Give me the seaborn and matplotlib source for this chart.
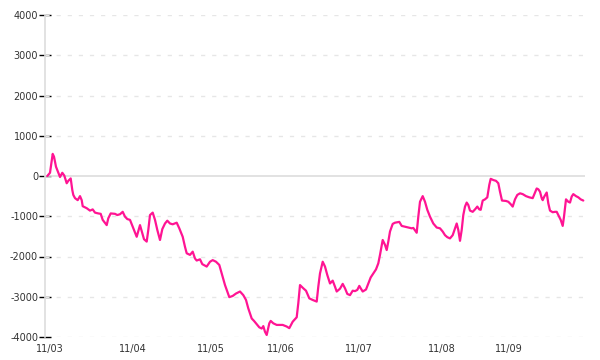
import matplotlib
matplotlib.use("Agg")
import matplotlib.pyplot as plt
import seaborn as sns
import pandas as pd

# elapsed session time (x) and cumulative value (y)
t = [0.3, 3, 5.7, 7, 9, 11.3, 13, 15.3, 17.3, 19.7, 21.3, 23.7, 25.3, 26.3, 28, 30.7,
     33, 34.7, 35.7, 39.7, 43, 45.7, 48, 51.3, 53.7, 55.7, 59.7, 61.3, 63.7, 68, 70.3,
     73, 75.7, 78, 80.3, 83, 85.7, 89.7, 93, 97, 99.7, 101.3, 103, 105.7, 108, 110.3,
     113, 115.3, 118, 120.3, 123, 125.7, 129.7, 132.3, 135.7, 138, 139.7, 143, 145.7,
     148, 149.7, 153, 155.3, 159.7, 163, 165.7, 169, 172.3, 174.7, 178, 180.3, 182.3,
     185.7, 189, 193, 196.3, 199, 201.3, 204.7, 207, 209.7, 212.3, 214.7, 216.3, 218,
     219.7, 222.3, 223.7, 226.3, 229.7, 235.7, 239.7, 242.3, 245.7, 249.7, 251.3, 253,
     256.3, 259, 262.3, 265.7, 269.7, 271.3, 273, 275.7, 278, 280.3, 283, 285.7, 288,
     289.7, 293, 295.7, 298, 300.3, 303, 305.7, 308, 310.3, 312.3, 313.7, 315.7, 319,
     321.3, 323.7, 326.3, 329, 331.3, 333, 335.7, 338, 339.7, 341.3, 343, 345.7, 348,
     352.3, 354.7, 358, 361.3, 364.7, 366.3, 369.7, 371.3, 373, 375.7, 378, 380.3, 383,
     386.3, 389.7, 393, 395.7, 398, 400.3, 403, 405.7, 408, 409.7, 411.3, 413, 414.7,
     416.3, 418, 419.7, 421.3, 423, 425.7, 428, 430.3, 432.3, 433.7, 435.7, 438, 440.3,
     442.3, 443.7, 446.3, 449, 451.3, 453, 455, 459, 461.3, 463.7, 465.7, 468, 470.3,
     473, 475.7, 479, 482.3, 485.7, 488, 489.7, 491.3, 493, 494.7, 495.7, 497.3, 499.7,
     501.3, 503, 505.7, 508, 509.7, 511.3, 513.7, 515.7, 517, 519, 521.3, 523, 524.7,
     526.3, 529, 531.3, 533.7, 536.3]
value = [0, 80, 550, 480, 230, 80, -25, 80, 10, -180, -120, -60, -350, -470, -550, -600,
         -500, -600, -750, -800, -860, -830, -910, -930, -940, -1090, -1220, -1050, -930,
         -940, -970, -950, -890, -1010, -1070, -1090, -1260, -1510, -1220, -1570, -1630,
         -1340, -970, -910, -1090, -1340, -1590, -1320, -1180, -1110, -1180, -1200, -1160,
         -1300, -1510, -1760, -1920, -1960, -1880, -2050, -2100, -2070, -2190, -2250,
         -2130, -2090, -2130, -2210, -2420, -2710, -2870, -3010, -2980, -2920, -2870,
         -2960, -3080, -3290, -3540, -3600, -3680, -3760, -3790, -3730, -3870, -3950,
         -3660, -3600, -3660, -3700, -3700, -3740, -3780, -3620, -3510, -3160, -2710,
         -2790, -2850, -3040, -3080, -3120, -2750, -2420, -2130, -2250, -2460, -2670,
         -2600, -2750, -2870, -2800, -2680, -2790, -2930, -2960, -2850, -2860, -2830,
         -2730, -2790, -2870, -2820, -2670, -2520, -2420, -2320, -2170, -1960, -1590,
         -1710, -1840, -1630, -1380, -1190, -1160, -1140, -1240, -1260, -1280, -1300,
         -1290, -1410, -1010, -640, -500, -640, -840, -1010, -1180, -1280, -1300, -1380,
         -1470, -1520, -1550, -1470, -1300, -1180, -1340, -1610, -1340, -970, -760, -660,
         -720, -860, -890, -830, -760, -830, -840, -610, -580, -530, -220, -70, -100,
         -120, -180, -390, -610, -620, -640, -700, -760, -580, -470, -430, -450, -500,
         -530, -550, -410, -310, -330, -390, -550, -600, -510, -410, -680, -860, -900,
         -890, -890, -970, -1090, -1240, -1010, -580, -640, -660, -510, -450, -500, -530,
         -580, -610]

tick_pos = [2.6, 86, 163.8, 234, 311.5, 395, 462]
tick_labels = ["11/03", "11/04", "11/05", "11/06", "11/07", "11/08", "11/09"]
y_ticks = [-4000, -3000, -2000, -1000, 0, 1000, 2000, 3000, 4000]

df = pd.DataFrame({"t": t, "value": value})

sns.set_style("white")
plt.rcParams["font.family"] = ["DejaVu Sans"]
plt.rcParams["axes.unicode_minus"] = False

fig = plt.figure(figsize=(6, 3.6), dpi=100)
ax = fig.add_axes([0.075, 0.0639, 0.9, 0.8944])

sns.lineplot(data=df, x="t", y="value", color="#ff1493", linewidth=1.6, ax=ax, zorder=3)

ax.set_xlim(-2, 538)
ax.set_ylim(-4000, 4000)
ax.set_yticks(y_ticks)
ax.set_yticklabels([str(v) for v in y_ticks])
ax.set_xticks(tick_pos)
ax.set_xticklabels(tick_labels)
ax.set_xlabel("")
ax.set_ylabel("")

for yv in y_ticks:
    if yv != 0:
        ax.axhline(yv, color="#e6e6e6", linewidth=1, linestyle=(0, (3, 5)), zorder=1)
ax.axhline(0, color="#dddddd", linewidth=1.2, zorder=2)

for s in ["top", "right", "bottom"]:
    ax.spines[s].set_visible(False)
ax.spines["left"].set_color("#dddddd")
ax.spines["left"].set_linewidth(1.2)

ax.tick_params(axis="y", direction="inout", length=8, width=1, color="black",
               labelsize=7, labelcolor="#333333", pad=1, left=True)
ax.tick_params(axis="x", length=0, labelsize=7, labelcolor="#333333", pad=5)

fig.savefig("out.png", dpi=100)
